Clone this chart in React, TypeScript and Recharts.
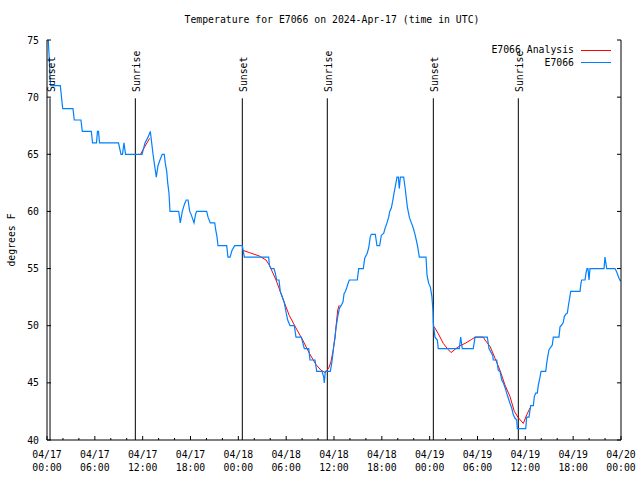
import React from 'react';
import { ComposedChart, Line, XAxis, YAxis, ReferenceLine, ReferenceDot } from 'recharts';

const FONT = '"DejaVu Sans Mono", "Liberation Mono", monospace';
const FS = 9.8;

// Observed series E7066 (hours since 04/17 00:00 UTC, degrees F)
const obsHours = [
  0.16, 0.31, 0.44, 1.67, 1.97, 3.26, 3.42, 4.26, 4.43, 5.56, 5.71, 6.21, 6.33, 6.46, 6.59, 8.97, 9.28, 9.47, 9.66, 9.85,
  11.92, 12.29, 12.67, 12.96, 13.3, 13.71, 13.92, 14.17, 14.46, 14.71, 14.84, 15.02, 15.14, 15.3, 15.43, 16.52, 16.72, 16.97,
  17.27, 17.47, 17.69, 17.9, 18.1, 18.44, 18.65, 18.78, 20.03, 20.2, 20.48, 21.04, 21.16, 21.32, 21.45, 22.54, 22.7, 22.96,
  23.21, 23.54, 24.5, 24.75, 27.81, 27.89, 28.1, 28.47, 28.64, 28.81, 29.1, 29.26, 29.57, 29.77, 29.98, 30.19, 30.48, 31.02,
  31.23, 31.9, 32.28, 32.83, 32.99, 33.62, 33.83, 34.5, 34.71, 34.78, 34.91, 35.54, 35.71, 35.84, 35.96, 36.13, 36.25, 36.47,
  36.67, 36.92, 37.13, 37.26, 37.42, 37.59, 37.76, 37.92, 38.92, 39.1, 39.68, 39.85, 40.14, 40.35, 40.55, 40.68, 41.18, 41.39,
  41.73, 41.93, 42.24, 42.44, 42.65, 42.86, 42.99, 43.19, 43.36, 43.53, 43.69, 43.9, 44.07, 44.19, 44.32, 44.74, 44.95, 45.2,
  45.45, 45.7, 45.87, 46.12, 46.32, 46.5, 46.7, 47.54, 47.67, 47.88, 48.08, 48.29, 48.42, 48.46, 48.67, 48.96, 49.08, 51.72,
  51.89, 52.09, 53.47, 53.69, 55.23, 55.44, 55.91, 55.98, 56.41, 56.61, 56.82, 57.04, 57.24, 57.45, 57.66, 57.87, 58.08, 58.29,
  58.49, 58.71, 58.92, 59.0, 60.05, 60.17, 60.46, 60.67, 61.0, 61.13, 61.3, 61.5, 61.63, 61.84, 61.97, 62.56, 62.68, 62.81,
  62.97, 63.18, 63.38, 63.51, 64.22, 64.35, 64.56, 64.76, 64.89, 65.07, 65.27, 65.39, 65.52, 65.69, 66.86, 66.98, 67.07, 67.49,
  67.61, 67.74, 67.86, 67.99, 68.11, 69.87, 69.99, 70.21, 71.25, 71.46, 71.75, 71.94,
];
const obsTemps = [
  75, 73, 71, 71, 69, 69, 68, 68, 67, 67, 66, 66, 67, 67, 66, 66, 65, 65, 66, 65,
  65, 66, 66.5, 67, 65, 63, 64, 64.5, 65, 65, 64.2, 63.5, 62.5, 61.6, 60, 60, 59, 60,
  60.7, 61, 61, 60, 59.7, 59, 59.8, 60, 60, 59.5, 59, 59, 58.4, 57.8, 57, 57, 56, 56,
  56.6, 57, 57, 56, 56, 55.3, 55, 55, 54.6, 54, 54, 53, 52.4, 52, 51.2, 50.5, 50, 50,
  49, 49, 48, 48, 47, 47, 46, 46, 45.5, 45, 46, 46, 46.7, 47.4, 48.2, 49, 49.8, 50.8,
  51.5, 51.8, 52.1, 52.8, 53, 53.3, 53.7, 54, 54, 55, 55, 55.9, 56.3, 56.8, 57.8, 58, 58, 57,
  57, 57.9, 58.1, 58.6, 59, 59.5, 60, 60.3, 60.9, 61.6, 62.2, 63, 63, 62, 63, 63, 61.9, 60.4,
  59.5, 59, 58.7, 58.1, 57.5, 56.9, 56, 56, 54.4, 53.7, 53.4, 52.5, 51.2, 50.2, 49, 48.75, 48, 48,
  49, 48, 48, 49, 49, 48, 47.4, 47, 47, 46.1, 46, 45.25, 45, 44.6, 44.1, 43.65, 43.2, 42.8,
  42.2, 41.9, 41.75, 41, 41, 42, 42, 43, 43, 43.8, 44.1, 44.1, 44.8, 45.5, 46, 46, 46.7, 47.3,
  47.9, 48.1, 48.3, 49, 49, 49.9, 50.06, 50.3, 50.8, 51, 51.1, 51.7, 52.25, 53, 53, 53.7, 54, 54,
  54.6, 55, 55, 54, 55, 55, 56, 55, 55, 54.7, 54.15, 53.9,
];

// Analysis series (null = gap between segments)
const anaHours = [
  11.67, 12.29, 12.88, 12.9,
  24.55, 25.38, 26.63, 27.47, 27.89, 28.73, 29.57, 30.39, 31.23, 32.07, 32.9, 33.74, 34.37, 34.91, 35.34, 35.62, 35.91, 36.13,
  36.25, 36.47, 36.67, 36.7,
  48.58, 49.08, 49.71, 50.34, 50.68, 51.39, 51.81, 52.43, 53.27, 53.69, 54.73, 54.94, 55.57, 56.2, 56.82, 57.45, 58.08, 58.62,
  59.12, 59.75, 60.17, 60.59,
];
const anaTemps: (number | null)[] = [
  64.93, 65.7, 66.4, null,
  56.6, 56.4, 56.1, 55.75, 55.3, 54, 52.4, 50.9, 49.8, 48.75, 47.6, 46.6, 46.1, 45.9, 46.3, 46.85, 47.9, 49,
  49.9, 51.4, 51.8, null,
  49.9, 49.3, 48.45, 47.9, 47.65, 48.05, 48.25, 48.45, 48.8, 49, 49, 48.75, 48.2, 47.15, 46.1, 44.8, 43.8, 42.5,
  41.95, 41.45, 42.2, 42.8,
];

const sunHours = [0.38, 11.08, 24.5, 35.16, 48.46, 59.12];
const sunLabels = ['Sunset', 'Sunrise', 'Sunset', 'Sunrise', 'Sunset', 'Sunrise'];
const sunLineTop = 69.9;
const sunLabelBase = 70.45;

const xTickHours = [0, 6, 12, 18, 24, 30, 36, 42, 48, 54, 60, 66, 72];
const xTickDates = ['04/17', '04/17', '04/17', '04/17', '04/18', '04/18', '04/18', '04/18', '04/19', '04/19', '04/19', '04/19', '04/20'];
const xTickTimes = ['00:00', '06:00', '12:00', '18:00', '00:00', '06:00', '12:00', '18:00', '00:00', '06:00', '12:00', '18:00', '00:00'];
const xMinorHours = Array.from({ length: 37 }, (_, i) => i * 2);
const yTicks = [40, 45, 50, 55, 60, 65, 70, 75];

const obsData = obsHours.map((h, i) => ({ h, v: obsTemps[i] }));
const anaData = anaHours.map((h, i) => ({ h, v: anaTemps[i] }));

const BottomTick = (props: any) => {
  const { x, y, payload } = props;
  const h = payload.value;
  const idx = xTickHours.indexOf(h);
  const major = idx >= 0;
  return (
    <g>
      <line x1={x} y1={y} x2={x} y2={y - (major ? 4 : 2)} stroke="#000" strokeWidth={1} />
      {major && (
        <text x={x} y={y} textAnchor="middle" fontFamily={FONT} fontSize={FS} fill="#000">
          <tspan x={x} dy={17.5}>{xTickDates[idx]}</tspan>
          <tspan x={x} dy={13}>{xTickTimes[idx]}</tspan>
        </text>
      )}
    </g>
  );
};

const TopTick = (props: any) => {
  const { x, y, payload } = props;
  const major = xTickHours.indexOf(payload.value) >= 0;
  return <line x1={x} y1={y} x2={x} y2={y + (major ? 4 : 2)} stroke="#000" strokeWidth={1} />;
};

const LeftTick = (props: any) => {
  const { x, y, payload } = props;
  return (
    <g>
      <line x1={x} y1={y} x2={x + 4} y2={y} stroke="#000" strokeWidth={1} />
      <text x={x - 8} y={y} textAnchor="end" dominantBaseline="central" fontFamily={FONT} fontSize={FS} fill="#000">
        {payload.value}
      </text>
    </g>
  );
};

const RightTick = (props: any) => {
  const { x, y } = props;
  return <line x1={x} y1={y} x2={x - 4} y2={y} stroke="#000" strokeWidth={1} />;
};

const YLabel = (props: any) => {
  const vb = props.viewBox || { x: 0, y: 40, width: 47, height: 400 };
  const cx = vb.x + 11;
  const cy = vb.y + vb.height / 2;
  return (
    <text x={cx} y={cy} transform={`rotate(-90 ${cx} ${cy})`} textAnchor="middle" dominantBaseline="central"
      fontFamily={FONT} fontSize={FS} fill="#000">
      degrees F
    </text>
  );
};

const makeSunLabel = (text: string) => (props: any) => {
  const vb = props.viewBox;
  const cx = vb.x + vb.width / 2 + 1;
  const cy = vb.y + vb.height / 2;
  return (
    <text x={cx} y={cy} transform={`rotate(-90 ${cx} ${cy})`} textAnchor="start" dominantBaseline="central"
      fontFamily={FONT} fontSize={FS} fill="#000">
      {text}
    </text>
  );
};

const legendItems = [
  { name: 'E7066 Analysis', color: '#ff0000' },
  { name: 'E7066', color: '#0080ff' },
];

export default function App() {
  return (
    <div style={{ position: 'absolute', left: 0, top: 0, width: 640, height: 480, background: '#fff', fontFamily: FONT }}>
      <div style={{ position: 'absolute', left: 0, top: 14, width: 664, textAlign: 'center', fontSize: FS, lineHeight: '12px', color: '#000', whiteSpace: 'pre' }}>
        Temperature for E7066 on 2024-Apr-17 (time in UTC)
      </div>
      <ComposedChart width={640} height={480} margin={{ top: 40, right: 0, bottom: 0, left: 0 }}>
        <XAxis xAxisId="b" dataKey="h" type="number" domain={[0, 72]} ticks={xMinorHours} interval={0}
          orientation="bottom" height={40} tickSize={0} tickMargin={0} tickLine={false}
          axisLine={{ stroke: '#000' }} tick={<BottomTick />} allowDataOverflow />
        <XAxis xAxisId="t" dataKey="h" type="number" domain={[0, 72]} ticks={xMinorHours} interval={0}
          orientation="top" height={0} tickSize={0} tickMargin={0} tickLine={false}
          axisLine={{ stroke: '#000' }} tick={<TopTick />} allowDataOverflow />
        <YAxis yAxisId="l" type="number" domain={[40, 75]} ticks={yTicks} interval={0} width={47}
          tickSize={0} tickMargin={0} tickLine={false} axisLine={{ stroke: '#000' }} tick={<LeftTick />}
          allowDataOverflow label={<YLabel />} />
        <YAxis yAxisId="r" orientation="right" type="number" domain={[40, 75]} ticks={yTicks} interval={0} width={19}
          tickSize={0} tickMargin={0} tickLine={false} axisLine={{ stroke: '#000' }} tick={<RightTick />}
          allowDataOverflow />
        {sunHours.map((h, i) => (
          <ReferenceLine key={'sl' + i} xAxisId="b" yAxisId="l"
            segment={[{ x: h, y: sunLineTop }, { x: h, y: 40 }]} stroke="#000" strokeWidth={1} />
        ))}
        {sunHours.map((h, i) => (
          <ReferenceDot key={'sd' + i} xAxisId="b" yAxisId="l" x={h} y={sunLabelBase} r={0}
            fill="none" stroke="none" label={makeSunLabel(sunLabels[i])} />
        ))}
        <Line xAxisId="b" yAxisId="l" data={anaData} dataKey="v" name="E7066 Analysis" type="linear"
          stroke="#ff0000" strokeWidth={1} dot={false} isAnimationActive={false} connectNulls={false} />
        <Line xAxisId="b" yAxisId="l" data={obsData} dataKey="v" name="E7066" type="linear"
          stroke="#0080ff" strokeWidth={1.2} dot={false} isAnimationActive={false} />
      </ComposedChart>
      {legendItems.map((it, i) => (
        <div key={it.name} style={{ position: 'absolute', top: 44 + i * 12.7, right: 640 - 611, display: 'flex', alignItems: 'center', fontSize: FS, lineHeight: '12px', color: '#000' }}>
          <span style={{ whiteSpace: 'pre' }}>{it.name}</span>
          <span style={{ display: 'inline-block', width: 30, height: 0, borderTop: `1px solid ${it.color}`, marginLeft: 7 }} />
        </div>
      ))}
    </div>
  );
}
